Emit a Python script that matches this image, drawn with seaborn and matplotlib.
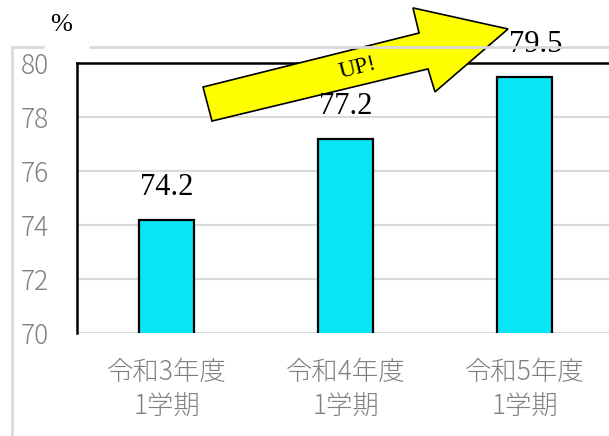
import matplotlib
matplotlib.use('Agg')
import matplotlib.pyplot as plt
from matplotlib.patches import Polygon
from matplotlib.lines import Line2D
import seaborn as sns

# data
categories = ['令和3年度\n1学期', '令和4年度\n1学期', '令和5年度\n1学期']
values = [74.2, 77.2, 79.5]
y_ticks = [70, 72, 74, 76, 78, 80]

sns.set_theme(style='white')
plt.rcParams['font.family'] = ['Noto Sans CJK JP', 'DejaVu Sans']

W, H = 609, 436
fig = plt.figure(figsize=(W / 100, H / 100), dpi=100)
ax = fig.add_axes([77 / W, 1 - 333 / H, 537 / W, 270 / H])

sns.barplot(x=categories, y=values, color='#08E6F5', saturation=1, width=0.31,
            edgecolor='black', linewidth=1.6, ax=ax, zorder=3)

ax.set_ylim(70, 80)
ax.set_xlim(-0.5, 2.5)
ax.set_yticks(y_ticks)
ax.set_xlabel(''); ax.set_ylabel('')
for y in y_ticks[:-1]:
    ax.axhline(y, color='#d9d9d9', lw=1.5, zorder=1)

for s in ['right', 'bottom']:
    ax.spines[s].set_visible(False)
ax.spines['left'].set_color('black'); ax.spines['left'].set_linewidth(1.8)
ax.spines['top'].set_color('black'); ax.spines['top'].set_linewidth(1.8)

ax.tick_params(axis='y', length=0, pad=20, labelsize=19, labelcolor='#808080')
ax.tick_params(axis='x', length=0, pad=18, labelsize=19, labelcolor='#808080')
for lab in ax.get_yticklabels():
    lab.set_fontweight('light')
for lab in ax.get_xticklabels():
    lab.set_linespacing(1.3)
    lab.set_fontweight('light')

# value labels (last one nudged right, clear of the arrow tip)
for i, v in enumerate(values):
    dx = 8 if i == len(values) - 1 else 0
    ax.annotate(f'{v:.1f}', (i, v), xytext=(dx, 23), textcoords='offset points',
                ha='center', va='center', fontsize=22, family='Liberation Serif',
                color='black', zorder=6)

# arrow
arrow_pts = [(0.204, 79.11), (1.411, 81.11), (1.377, 82.04), (1.908, 81.26),
             (1.50, 78.93), (1.461, 79.78), (0.254, 77.85)]
ax.add_patch(Polygon(arrow_pts, closed=True, facecolor='#FFFF00', edgecolor='black',
                     lw=1.2, clip_on=False, zorder=5))
ax.text(1.07, 79.8, 'UP!', rotation=14, ha='center', va='center', fontsize=17,
        family='Liberation Serif', color='black', zorder=6)

# % label and outer border
fig.text(61 / W, 1 - 25 / H, '%', ha='center', va='center', fontsize=19,
         family='Liberation Serif', color='black')
bx, by = 12 / W, 1 - 47 / H
fig.add_artist(Line2D([bx, bx], [0, by], color='#d9d9d9', lw=2))
fig.add_artist(Line2D([bx, 43 / W], [by, by], color='#d9d9d9', lw=2))
fig.add_artist(Line2D([90 / W, 1], [by, by], color='#d9d9d9', lw=2))

fig.savefig('out.png', dpi=100)
